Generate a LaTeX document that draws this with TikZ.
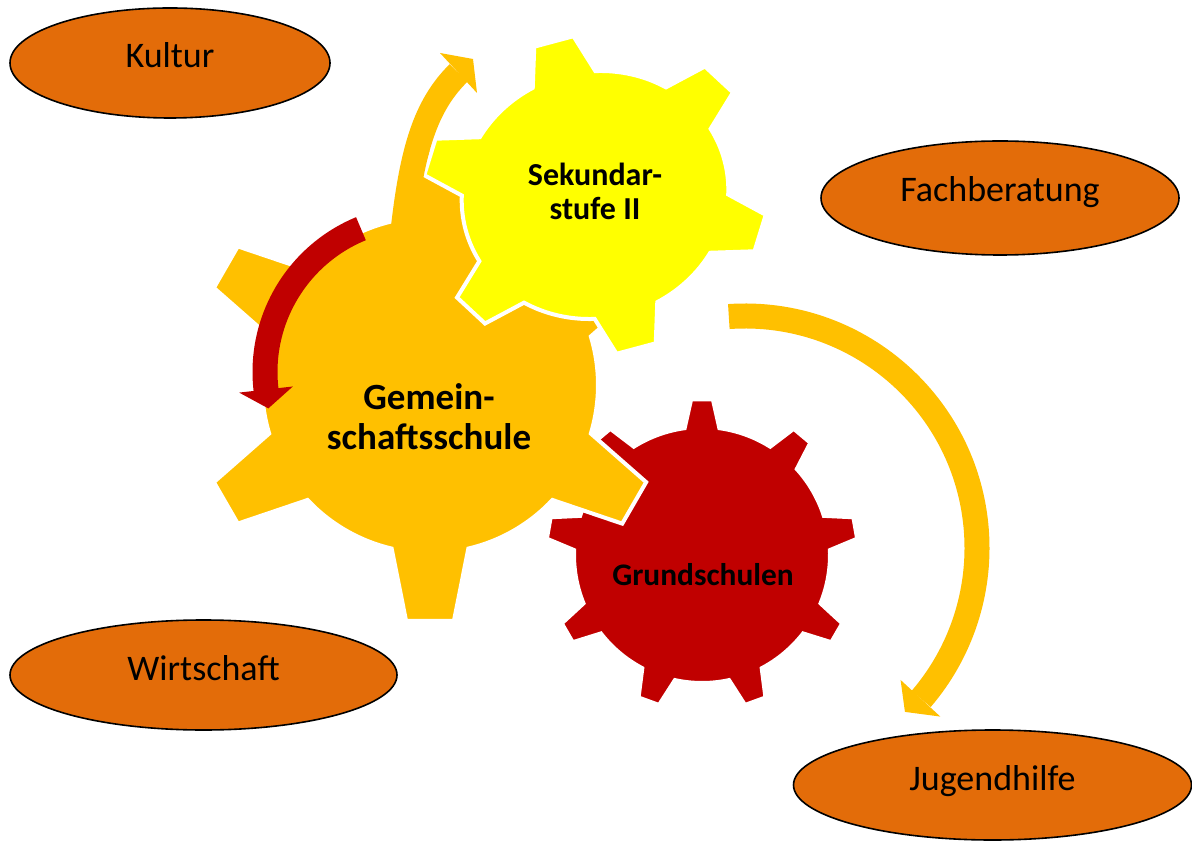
\documentclass[tikz,border=0pt]{standalone}
\usepackage{fontspec}
\setmainfont{Carlito}
\usetikzlibrary{calc,shapes.geometric}

\definecolor{gearorange}{HTML}{FFC000}
\definecolor{gearyellow}{HTML}{FFFF00}
\definecolor{gearred}{HTML}{C00000}
\definecolor{ovalorange}{HTML}{E36C09}

% A gear: fill colour, number of teeth, angle of first tooth,
% body radius, tip radius, half-angle at the root, half-angle at the tip
\newcommand{\drawgear}[7]{%
  \filldraw[fill=#1, gearedge] ({#3-#6}:#4)
  \foreach \gi in {1,...,#2}{
    -- ({#3+(\gi-1)*360/#2-#6}:#4)
    -- ({#3+(\gi-1)*360/#2-#7}:#5)
    -- ({#3+(\gi-1)*360/#2+#7}:#5)
    -- ({#3+(\gi-1)*360/#2+#6}:#4)
    arc[start angle={#3+(\gi-1)*360/#2+#6}, end angle={#3+\gi*360/#2-#6}, radius=#4]
  } -- cycle;%
}

\begin{document}
\begin{tikzpicture}[x=0.5pt, y=0.5pt,
  gearedge/.style={draw=white, line width=2pt, line join=miter},
  oval/.style={ellipse, draw=black, line width=0.8pt, fill=ovalorange, inner sep=0pt},
  ovaltext/.style={anchor=base, font=\fontsize{18}{22}\selectfont},
  bigcaption/.style={align=center, font=\bfseries\fontsize{18.5}{20}\selectfont},
  smallcaption/.style={align=center, font=\bfseries\fontsize{16}{17}\selectfont},
  gearlabel/.style={anchor=base, font=\bfseries\fontsize{15.7}{18}\selectfont},
]
\useasboundingbox (0,0) rectangle (1192,841);
\fill[white] (0,0) rectangle (1192,841);

% gear centres
\coordinate (grundc) at (702,286);
\coordinate (gemc) at (430,456);
\coordinate (sekc) at (595,646);

% gears, back to front
\begin{scope}[shift={(grundc)}]
  \drawgear{gearred}{9}{90}{128}{156}{7.8}{4}
\end{scope}
\begin{scope}[shift={(gemc)}]
  \drawgear{gearorange}{6}{30}{168}{237}{13.2}{5.8}
\end{scope}
\begin{scope}[shift={(sekc)}, rotate=15, yscale=0.92, rotate=-15]
  \drawgear{gearyellow}{6}{45}{134}{174}{14}{6.7}
\end{scope}

% arrow rising out of the top tooth
\coordinate (upstart) at (403,610);
\coordinate (upend) at (458.5,768);
\draw[gearorange, line width=12.5pt] (upstart) .. controls (412,690) and (425,735) .. (upend);
\fill[gearorange] (440,788) -- (473,782) -- (477,748) -- cycle;

% red turning arrow on the large gear
\coordinate (redc) at (420,469);
\draw[gearred, line width=12.5pt] ($(redc)+(112.4:155)$) arc[start angle=112.4, end angle=187.5, radius=155];
\fill[gearred] ($(redc)+(186.5:128)$) -- ($(redc)+(186.5:182)$) -- ($(redc)+(193.5:156)$) -- cycle;

% large arrow on the right
\coordinate (bigc) at (745,293);
\draw[gearorange, line width=12.5pt] ($(bigc)+(94:232)$) arc[start angle=94, end angle=-40.6, radius=232];
\fill[gearorange] ($(bigc)+(-40.3:204)$) -- ($(bigc)+(-40.8:258)$) -- ($(bigc)+(-45.7:229)$) -- cycle;

% gear captions
\node[bigcaption] (gemtxt) at (429,424) {Gemein-\\schaftsschule};
\node[smallcaption] (sektxt) at (595,650) {Sekundar-\\stufe II};
\node[gearlabel] (grundtxt) at (703,256) {Grundschulen};

% partner ovals
\node[oval, minimum width=160pt, minimum height=55pt] (kultur) at (170,778) {};
\node[ovaltext] (kulturtxt) at ($(kultur.center)+(0,-5)$) {Kultur};
\node[oval, minimum width=179pt, minimum height=57pt] (fach) at (1000,643) {};
\node[ovaltext] (fachtxt) at ($(fach.center)+(0,-4)$) {Fachberatung};
\node[oval, minimum width=193.5pt, minimum height=55pt] (wirt) at (203.5,166) {};
\node[ovaltext] (wirttxt) at ($(wirt.center)+(0,-5)$) {Wirtschaft};
\node[oval, minimum width=199pt, minimum height=55pt] (jugend) at (992.5,56) {};
\node[ovaltext] (jugendtxt) at ($(jugend.center)+(0,-5)$) {Jugendhilfe};
\end{tikzpicture}
\end{document}
